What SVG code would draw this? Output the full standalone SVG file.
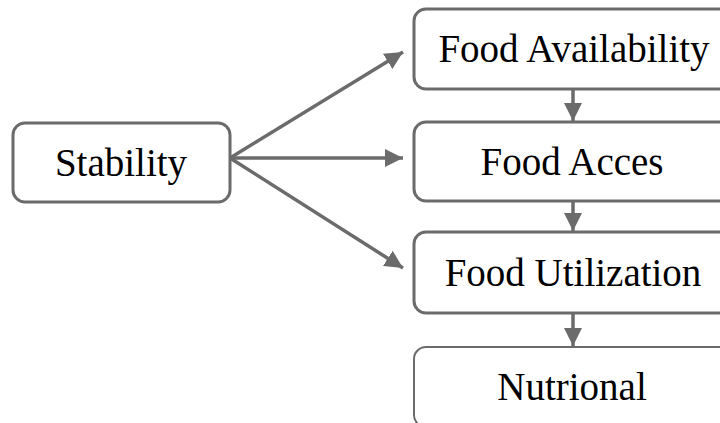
<svg xmlns="http://www.w3.org/2000/svg" width="720" height="423" viewBox="0 0 720 423">
<style>
.box{fill:#fff;stroke:#6b6b6b;stroke-width:3}
.lbl{font-family:"Liberation Serif","Times New Roman",serif;font-size:39px;fill:#000;text-anchor:middle}
.edge{stroke:#6b6b6b;stroke-width:3.5;fill:none}
</style>
<defs>
<marker id="ah" markerUnits="userSpaceOnUse" markerWidth="20" markerHeight="20" refX="18" refY="9" orient="auto">
<path d="M0,0 L18,9 L0,18 z" fill="#6b6b6b"/>
</marker>
</defs>
<rect width="720" height="423" fill="#fff"/>
<g id="stability"><rect class="box" x="13" y="123" width="217" height="79" rx="12"/><text class="lbl" x="121" y="176">Stability</text></g>
<g id="availability"><rect class="box" x="414" y="9" width="320" height="80" rx="12"/><text class="lbl" x="574" y="62">Food Availability</text></g>
<g id="access"><rect class="box" x="414" y="122" width="320" height="79" rx="12"/><text class="lbl" x="572" y="175">Food Acces</text></g>
<g id="utilization"><rect class="box" x="414" y="232" width="320" height="81" rx="12"/><text class="lbl" x="573" y="286">Food Utilization</text></g>
<g id="nutrional"><rect class="box" x="414" y="347" width="320" height="80" rx="12" style="stroke-width:2"/><text class="lbl" x="572" y="400">Nutrional</text></g>
<g id="connectors">
<line class="edge" x1="230" y1="158" x2="403" y2="52" marker-end="url(#ah)"/>
<line class="edge" x1="230" y1="158" x2="403" y2="158" marker-end="url(#ah)"/>
<line class="edge" x1="230" y1="158" x2="403" y2="268" marker-end="url(#ah)"/>
<line class="edge" x1="573" y1="89" x2="573" y2="121" marker-end="url(#ah)"/>
<line class="edge" x1="573" y1="201" x2="573" y2="231" marker-end="url(#ah)"/>
<line class="edge" x1="573" y1="313" x2="573" y2="346" marker-end="url(#ah)"/>
</g>
</svg>
